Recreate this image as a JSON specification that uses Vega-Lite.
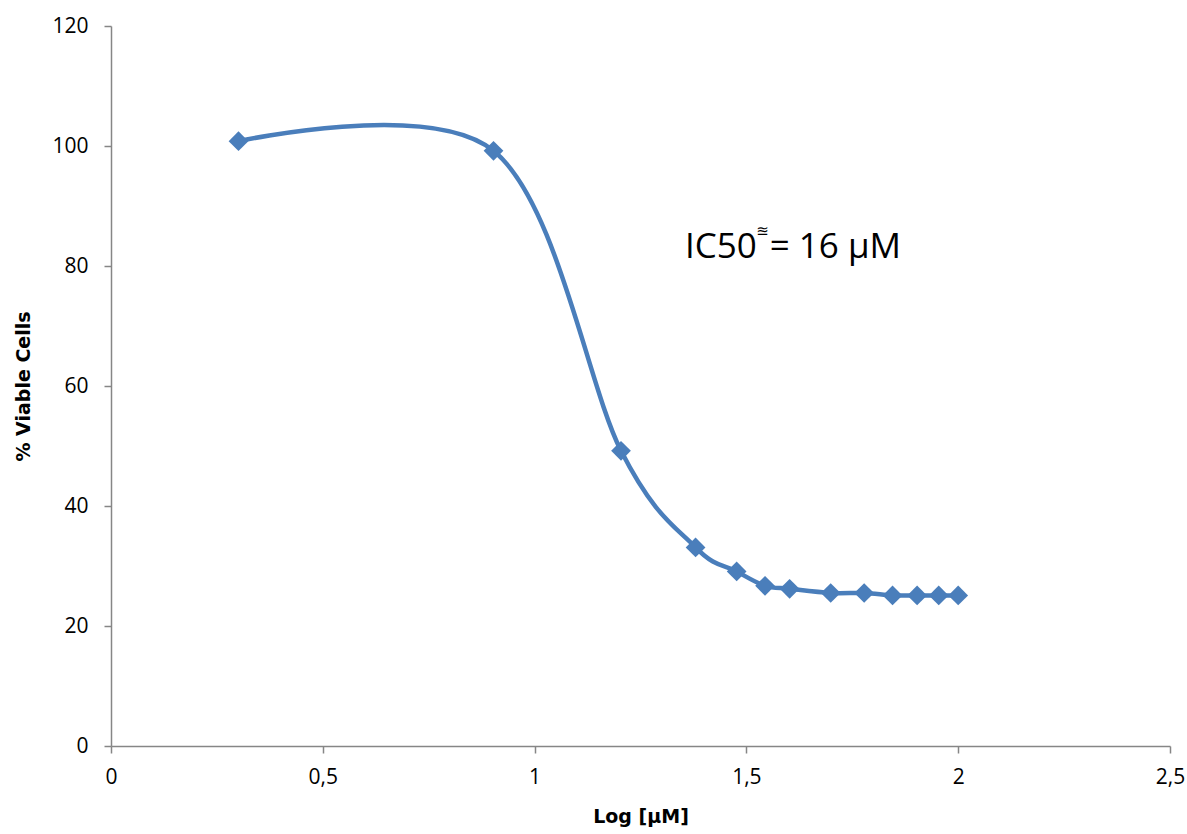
{
  "$schema": "https://vega.github.io/schema/vega-lite/v6.json",
  "autosize": "none",
  "width": 1059,
  "height": 720,
  "padding": {"left": 111, "top": 26, "right": 17, "bottom": 88},
  "background": "white",
  "config": {
    "view": {"stroke": null},
    "font": "DejaVu Sans",
    "axis": {"grid": false, "labelFlush": false, "domainColor": "#868686", "tickColor": "#868686", "domainWidth": 1.5, "tickWidth": 1.5, "tickSize": 7, "labelColor": "#000000", "labelFontSize": 21, "labelFont": "Open Sans", "titleFont": "DejaVu Sans", "titleFontSize": 19, "titleFontWeight": "bold", "titleColor": "#000000"}
  },
  "datasets": {
    "curve": [
      {"logc": 0.301, "viable": 100.8},
      {"logc": 0.903, "viable": 99.2},
      {"logc": 1.204, "viable": 49.2},
      {"logc": 1.380, "viable": 33.1},
      {"logc": 1.477, "viable": 29.1},
      {"logc": 1.544, "viable": 26.7},
      {"logc": 1.602, "viable": 26.2},
      {"logc": 1.699, "viable": 25.5},
      {"logc": 1.778, "viable": 25.5},
      {"logc": 1.845, "viable": 25.1},
      {"logc": 1.903, "viable": 25.1},
      {"logc": 1.954, "viable": 25.1},
      {"logc": 2.000, "viable": 25.1}
    ],
    "note": [
      {"logc": 1.355, "viable": 81.3, "label": "IC50"},
      {"logc": 1.555, "viable": 81.3, "label": "= 16 µM"}
    ],
    "approx": [
      {"logc": 1.523, "viable": 85.0, "label": "≊"}
    ]
  },
  "layer": [
    {
      "data": {"name": "curve"},
      "mark": {"type": "line", "interpolate": "cardinal", "tension": 0, "color": "#4A7EBB", "strokeWidth": 4.5},
      "encoding": {
        "x": {"field": "logc", "type": "quantitative", "scale": {"domain": [0, 2.5], "nice": false, "zero": false}, "axis": {"title": "Log [µM]", "values": [0, 0.5, 1, 1.5, 2, 2.5], "labelExpr": "replace(toString(datum.value), '.', ',')", "labelPadding": 13, "titlePadding": 20}},
        "y": {"field": "viable", "type": "quantitative", "scale": {"domain": [0, 120], "nice": false}, "axis": {"title": "% Viable Cells", "values": [0, 20, 40, 60, 80, 100, 120], "labelPadding": 16, "titlePadding": 18}}
      }
    },
    {
      "data": {"name": "curve"},
      "mark": {"type": "point", "shape": "diamond", "filled": true, "opacity": 1, "color": "#4A7EBB", "size": 390},
      "encoding": {
        "x": {"field": "logc", "type": "quantitative"},
        "y": {"field": "viable", "type": "quantitative"}
      }
    },
    {
      "data": {"name": "note"},
      "mark": {"type": "text", "align": "left", "baseline": "alphabetic", "fontSize": 35, "font": "Open Sans", "color": "#000000"},
      "encoding": {
        "x": {"field": "logc", "type": "quantitative"},
        "y": {"field": "viable", "type": "quantitative"},
        "text": {"field": "label"}
      }
    },
    {
      "data": {"name": "approx"},
      "mark": {"type": "text", "align": "left", "baseline": "alphabetic", "fontSize": 15, "font": "DejaVu Sans", "color": "#000000"},
      "encoding": {
        "x": {"field": "logc", "type": "quantitative"},
        "y": {"field": "viable", "type": "quantitative"},
        "text": {"field": "label"}
      }
    }
  ]
}
